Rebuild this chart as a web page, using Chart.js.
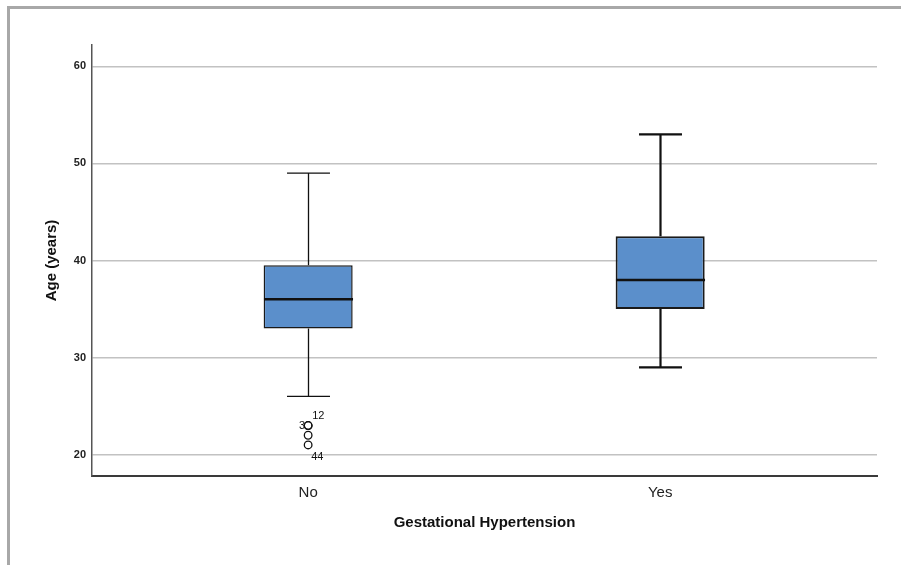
<!DOCTYPE html>
<html><head><meta charset="utf-8">
<script src="https://cdn.jsdelivr.net/npm/chart.js@4/dist/chart.umd.min.js"></script>
<style>
html,body{margin:0;padding:0;background:#fff;}
#wrap{position:relative;width:901px;height:565px;}
#frame{position:absolute;left:7px;top:6px;right:0;bottom:0;border-top:3px solid #a8a8a8;border-left:3px solid #a8a8a8;pointer-events:none;}
canvas{position:absolute;left:0;top:0;}
</style></head>
<body><div id="wrap"><canvas id="c" width="901" height="565"></canvas><div id="frame"></div></div>
<script>
const categories = ["No", "Yes"];
const whiskerLow = [26, 29];
const q1 = [33, 35];
const median = [36, 38];
const q3 = [39.5, 42.5];
const whiskerHigh = [49, 53];
const outlierCategory = [0, 0, 0, 0];
const outlierValues = [23, 23, 22, 21];
const outlierLabels = ["12", "3", "", "44"];
const yTicks = [20, 30, 40, 50, 60];

const boxData = categories.map((c, i) => ({x: i, y: [q1[i], q3[i]]}));
const outData = outlierValues.map((v, i) => ({x: outlierCategory[i], y: v}));

const boxPlugin = {
  id: 'boxParts',
  afterDatasetsDraw(chart) {
    const ctx = chart.ctx, xs = chart.scales.x, ys = chart.scales.y;
    const halfBox = xs.getPixelForValue(0.1265) - xs.getPixelForValue(0);
    const halfCap = xs.getPixelForValue(0.061) - xs.getPixelForValue(0);
    ctx.save();
    categories.forEach((c, i) => {
      const lw = i === 0 ? 1.3 : 2.2;
      const cx = Math.round(xs.getPixelForValue(i)) + 0.5;
      const yq1 = ys.getPixelForValue(q1[i]), yq3 = ys.getPixelForValue(q3[i]);
      const ylo = ys.getPixelForValue(whiskerLow[i]), yhi = ys.getPixelForValue(whiskerHigh[i]);
      const ym = ys.getPixelForValue(median[i]);
      ctx.strokeStyle = '#111';
      ctx.lineWidth = lw;
      ctx.beginPath();
      ctx.moveTo(cx, yq1); ctx.lineTo(cx, ylo);
      ctx.moveTo(cx, yq3); ctx.lineTo(cx, yhi);
      ctx.moveTo(cx - halfCap, ylo); ctx.lineTo(cx + halfCap, ylo);
      ctx.moveTo(cx - halfCap, yhi); ctx.lineTo(cx + halfCap, yhi);
      ctx.stroke();
      ctx.lineWidth = 2.5;
      ctx.beginPath();
      ctx.moveTo(cx - halfBox, ym); ctx.lineTo(cx + halfBox, ym);
      ctx.stroke();
    });
    ctx.fillStyle = '#111';
    ctx.font = '11px "Liberation Sans", Arial, sans-serif';
    ctx.textBaseline = 'middle';
    outlierValues.forEach((v, i) => {
      const lbl = outlierLabels[i];
      if (!lbl) return;
      const px = xs.getPixelForValue(outlierCategory[i]);
      const py = ys.getPixelForValue(v);
      if (i === 0) { ctx.textAlign = 'left'; ctx.fillText(lbl, px + 4, py - 10); }
      else if (i === 1) { ctx.textAlign = 'right'; ctx.fillText(lbl, px - 3, py); }
      else { ctx.textAlign = 'left'; ctx.fillText(lbl, px + 3, py + 12); }
    });
    ctx.restore();
  }
};

new Chart(document.getElementById('c'), {
  data: {
    datasets: [
      {type: 'bar', data: boxData, backgroundColor: '#5b8fcb', borderColor: '#1a1a1a', borderWidth: [1.5, 2], borderSkipped: false, categoryPercentage: 1, barPercentage: 0.253, order: 2},
      {type: 'scatter', data: outData, pointStyle: 'circle', pointRadius: 3.8, borderColor: '#111', borderWidth: 1.3, backgroundColor: 'rgba(255,255,255,0)', order: 1}
    ]
  },
  options: {
    responsive: false, animation: false,
    layout: {padding: {left: 0, top: 45, right: 24, bottom: 0}},
    plugins: {legend: {display: false}, tooltip: {enabled: false}},
    scales: {
      x: {
        type: 'linear', min: -0.614, max: 1.616, offset: false, bounds: 'ticks',
        afterBuildTicks: s => { s.ticks = categories.map((c, i) => ({value: i})); },
        afterFit: s => { s.height = 89; },
        ticks: {callback: v => categories[v] ?? '', color: '#222', font: {size: 15, family: '"Liberation Sans", Arial, sans-serif'}, padding: 8, maxRotation: 0},
        grid: {display: false, drawTicks: false, offset: false},
        border: {display: true, color: '#3a3a3a', width: 2},
        title: {display: true, text: 'Gestational Hypertension', color: '#111', font: {size: 15, weight: 'bold', family: '"Liberation Sans", Arial, sans-serif'}, padding: {top: 0, bottom: 33}}
      },
      y: {
        type: 'linear', min: 17.8, max: 62.2,
        afterBuildTicks: s => { s.ticks = yTicks.map(v => ({value: v})); },
        afterFit: s => { s.width = 92; },
        ticks: {color: '#222', font: {size: 11, weight: 'bold', family: '"Liberation Sans", Arial, sans-serif'}, padding: 6},
        grid: {color: '#c2c2c2', lineWidth: 1.5, drawTicks: false},
        border: {display: true, color: '#555', width: 1.5},
        title: {display: true, text: 'Age (years)', color: '#111', font: {size: 15, weight: 'bold', family: '"Liberation Sans", Arial, sans-serif'}, padding: {top: 43, bottom: 0}}
      }
    }
  },
  plugins: [boxPlugin]
});
</script></body></html>
